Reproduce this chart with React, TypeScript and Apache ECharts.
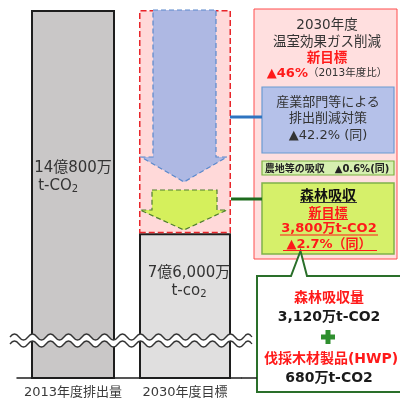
import React, { useEffect, useRef } from "react";
import * as echarts from "echarts";

// ---- data ----
const categories = ["2013年度排出量", "2030年度目標"];
const emissions = [14.08, 7.6]; // 億t-CO2
const reduction = ["-", 6.48]; // 2013 - 2030
const barLabelTop = ["14億800万", "7億6,000万"];
const barLabelUnit = ["t-CO", "t-co"];
const targetHead = ["2030年度", "温室効果ガス削減"];
const targetNew = "新目標";
const targetPct = "▲46%";
const targetBase = "（2013年度比）";
const industry = ["産業部門等による", "排出削減対策", "▲42.2% (同)"];
const farm = "農地等の吸収　▲0.6%(同)";
const forestTitle = "森林吸収";
const forestLines = ["新目標", "3,800万t-CO2", "▲2.7%（同）"];
const forestParts = ["森林吸収量", "3,120万t-CO2", "伐採木材製品(HWP)", "680万t-CO2"];

const FF = '"DejaVu Sans", "Noto Sans CJK JP", sans-serif';

function wave(yc: number, x0: number, x1: number, period: number, amp: number) {
  const half = period / 2;
  const pts: string[] = [`M${x0} ${yc}`];
  let x = x0;
  let up = true;
  while (x < x1 - 0.01) {
    const nx = Math.min(x + half, x1);
    const cy = up ? yc - amp * 2 : yc + amp * 2;
    pts.push(`Q${(x + nx) / 2} ${cy} ${nx} ${yc}`);
    x = nx;
    up = !up;
  }
  return pts.join(" ");
}
function waveBack(yc: number, x0: number, x1: number, period: number, amp: number) {
  const half = period / 2;
  const segs: { a: number; b: number; up: boolean }[] = [];
  let x = x0;
  let up = true;
  while (x < x1 - 0.01) {
    const nx = Math.min(x + half, x1);
    segs.push({ a: x, b: nx, up });
    x = nx;
    up = !up;
  }
  const out: string[] = [];
  for (let i = segs.length - 1; i >= 0; i--) {
    const s = segs[i];
    const cy = s.up ? yc - amp * 2 : yc + amp * 2;
    out.push(`Q${(s.a + s.b) / 2} ${cy} ${s.a} ${yc}`);
  }
  return out.join(" ");
}

let registered = false;
function registerShapes() {
  if (registered) return;
  registered = true;
  const X0 = 10, X1 = 252, P = 18, A = 3, Y1 = 337, Y2 = 344;
  const band = wave(Y1, X0, X1, P, A) + ` L${X1} ${Y2} ` + waveBack(Y2, X0, X1, P, A) + " Z";
  echarts.graphic.registerShape("waveBand", echarts.graphic.extendPath(band, {}) as any);
  echarts.graphic.registerShape("waveTop", echarts.graphic.extendPath(wave(Y1, X0, X1, P, A), {}) as any);
  echarts.graphic.registerShape("waveBot", echarts.graphic.extendPath(wave(Y2, X0, X1, P, A), {}) as any);
}

function txt(x: number, y: number, text: string, size: number, color: string, weight = "normal", z = 30) {
  return {
    type: "text",
    x,
    y,
    z,
    style: {
      text,
      fill: color,
      fontSize: size,
      fontFamily: FF,
      fontWeight: weight,
      align: "center",
      verticalAlign: "middle",
    },
  };
}
function line(x1: number, y1: number, x2: number, y2: number, color: string, w: number, z = 25) {
  return { type: "line", z, shape: { x1, y1, x2, y2 }, style: { stroke: color, lineWidth: w } };
}

export default function App() {
  const ref = useRef<HTMLDivElement>(null);
  useEffect(() => {
    document.body.style.margin = "0";
    registerShapes();
    const chart = echarts.init(ref.current!, null, { renderer: "svg" });
    const barLabel = (offsetY: number) => ({
      show: true,
      position: ["50%", offsetY],
      align: "center",
      verticalAlign: "top",
      formatter: (p: any) => {
        const left = p.dataIndex === 0;
        const u = left ? "u" : "a";
        const s = left ? "sl" : "s";
        return `{a|${barLabelTop[p.dataIndex]}}\n{${u}|${barLabelUnit[p.dataIndex]}}{${s}|2}`;
      },
      rich: {
        a: { fontSize: 15, fontFamily: FF, color: "#333", lineHeight: 18, align: "center" },
        u: { fontSize: 15, fontFamily: FF, color: "#333", lineHeight: 18, align: "left", padding: [0, 0, 0, 4] },
        s: { fontSize: 10, fontFamily: FF, color: "#333", lineHeight: 18, padding: [7, 0, 0, 0] },
        sl: { fontSize: 10, fontFamily: FF, color: "#333", lineHeight: 18, padding: [7, 0, 0, 0], align: "left" },
      },
    });
    const option: any = {
      animation: false,
      grid: { left: 17, width: 224, top: 10, bottom: 21 },
      xAxis: [
        {
          type: "category",
          data: categories,
          axisLine: { lineStyle: { color: "#1e1e1e", width: 1.5 } },
          axisTick: { show: false },
          axisLabel: { interval: 0, hideOverlap: false, fontSize: 13, color: "#3a3a3a", margin: 7, fontFamily: FF },
        },
        { type: "category", data: categories, show: false },
      ],
      yAxis: { type: "value", min: 3.4, max: 14.08, show: false },
      series: [
        {
          type: "bar",
          xAxisIndex: 0,
          data: [emissions[0], "-"],
          barWidth: 84,
          itemStyle: { color: "#c9c7c7", borderColor: "#1e1e1e", borderWidth: 2 },
          label: barLabel(148),
          z: 2,
        },
        {
          type: "bar",
          xAxisIndex: 1,
          stack: "t",
          data: ["-", emissions[1]],
          barWidth: 92,
          itemStyle: { color: "#e0dfdf", borderColor: "#1e1e1e", borderWidth: 2 },
          label: { ...barLabel(30), position: [50, 30] },
          z: 2,
        },
        {
          type: "bar",
          xAxisIndex: 1,
          stack: "t",
          data: reduction,
          barWidth: 92,
          itemStyle: { color: "#ffd9d9", borderColor: "#e8252a", borderWidth: 1.5, borderType: "dashed" },
          z: 2,
        },
      ],
      graphic: [
        { type: "waveBand", z: 20, style: { fill: "#ffffff", stroke: null } },
        { type: "waveTop", z: 21, style: { fill: null, stroke: "#333", lineWidth: 1.3 } },
        { type: "waveBot", z: 21, style: { fill: null, stroke: "#333", lineWidth: 1.3 } },
        line(241, 378, 257, 378, "#1e1e1e", 1.5),
        {
          type: "polygon",
          z: 15,
          shape: { points: [[153, 10], [216, 10], [216, 157], [227, 157], [184, 182], [141, 157], [153, 157]] },
          style: { fill: "#aeb8e3", stroke: "#5a88cc", lineWidth: 1.2, lineDash: [5, 3] },
        },
        {
          type: "polygon",
          z: 15,
          shape: { points: [[152, 190], [217, 190], [217, 210], [227, 210], [184, 230], [140, 210], [152, 210]] },
          style: { fill: "#d5f05c", stroke: "#4f7f2f", lineWidth: 1.2, lineDash: [5, 3] },
        },
        line(230, 117, 262, 117, "#2f74c0", 3),
        line(231, 199, 262, 199, "#1d6b1d", 3),
        { type: "rect", z: 10, shape: { x: 254, y: 9, width: 143, height: 250 }, style: { fill: "#ffdfdf", stroke: "#ff4d4d", lineWidth: 1 } },
        txt(327, 24, targetHead[0], 13.5, "#333"),
        txt(327, 41, targetHead[1], 13.5, "#333"),
        txt(327, 57, targetNew, 13.5, "#ff1a1a", "bold"),
        {
          type: "text",
          x: 327,
          y: 72,
          z: 30,
          style: {
            text: `{r|${targetPct}}{k|${targetBase}}`,
            align: "center",
            verticalAlign: "middle",
            rich: {
              r: { fontSize: 13, fontWeight: "bold", fill: "#ff1a1a", fontFamily: FF },
              k: { fontSize: 10.5, fill: "#333", fontFamily: FF },
            },
          },
        },
        { type: "rect", z: 12, shape: { x: 262, y: 87, width: 132, height: 66 }, style: { fill: "#b5c1e9", stroke: "#6b9bd2", lineWidth: 1.2 } },
        txt(328, 101, industry[0], 13, "#333"),
        txt(328, 117, industry[1], 13, "#333"),
        txt(328, 134, industry[2], 13, "#333"),
        { type: "rect", z: 12, shape: { x: 262, y: 161, width: 132, height: 14 }, style: { fill: "#d6efb0", stroke: "#7cb342", lineWidth: 1.2 } },
        txt(327, 168.5, farm, 10, "#222", "bold"),
        { type: "rect", z: 12, shape: { x: 262, y: 183, width: 132, height: 71 }, style: { fill: "#d6f06a", stroke: "#7fb24a", lineWidth: 1.5 } },
        txt(328, 195, forestTitle, 14, "#111", "bold"),
        line(300, 202.5, 357, 202.5, "#333", 1),
        txt(328, 212, forestLines[0], 13, "#ff1a1a", "bold"),
        line(308, 219.5, 348, 219.5, "#ff1a1a", 1),
        txt(329, 227.5, forestLines[1], 13, "#ff1a1a", "bold"),
        line(280, 235, 378, 235, "#ff1a1a", 1),
        txt(329, 243, forestLines[2], 13, "#ff1a1a", "bold"),
        line(283, 250.5, 377, 250.5, "#ff1a1a", 1),
        {
          type: "polygon",
          z: 14,
          shape: { points: [[257, 276], [291, 276], [300.5, 251], [307, 276], [403, 276], [403, 392], [257, 392]] },
          style: { fill: "#ffffff", stroke: "#2a6f2a", lineWidth: 2 },
        },
        txt(329, 297, forestParts[0], 14, "#ff1a1a", "bold"),
        txt(329, 315.5, forestParts[1], 14, "#1a1a1a", "bold"),
        { type: "rect", z: 30, shape: { x: 321, y: 334.5, width: 14, height: 5 }, style: { fill: "#2f8f2f" } },
        { type: "rect", z: 30, shape: { x: 325.5, y: 330, width: 5, height: 14 }, style: { fill: "#2f8f2f" } },
        txt(331, 358, forestParts[2], 14, "#ff1a1a", "bold"),
        txt(329, 377, forestParts[3], 14, "#1a1a1a", "bold"),
      ],
    };
    chart.setOption(option);
    return () => chart.dispose();
  }, []);
  return <div ref={ref} style={{ position: "fixed", left: 0, top: 0, width: 400, height: 399 }} />;
}
